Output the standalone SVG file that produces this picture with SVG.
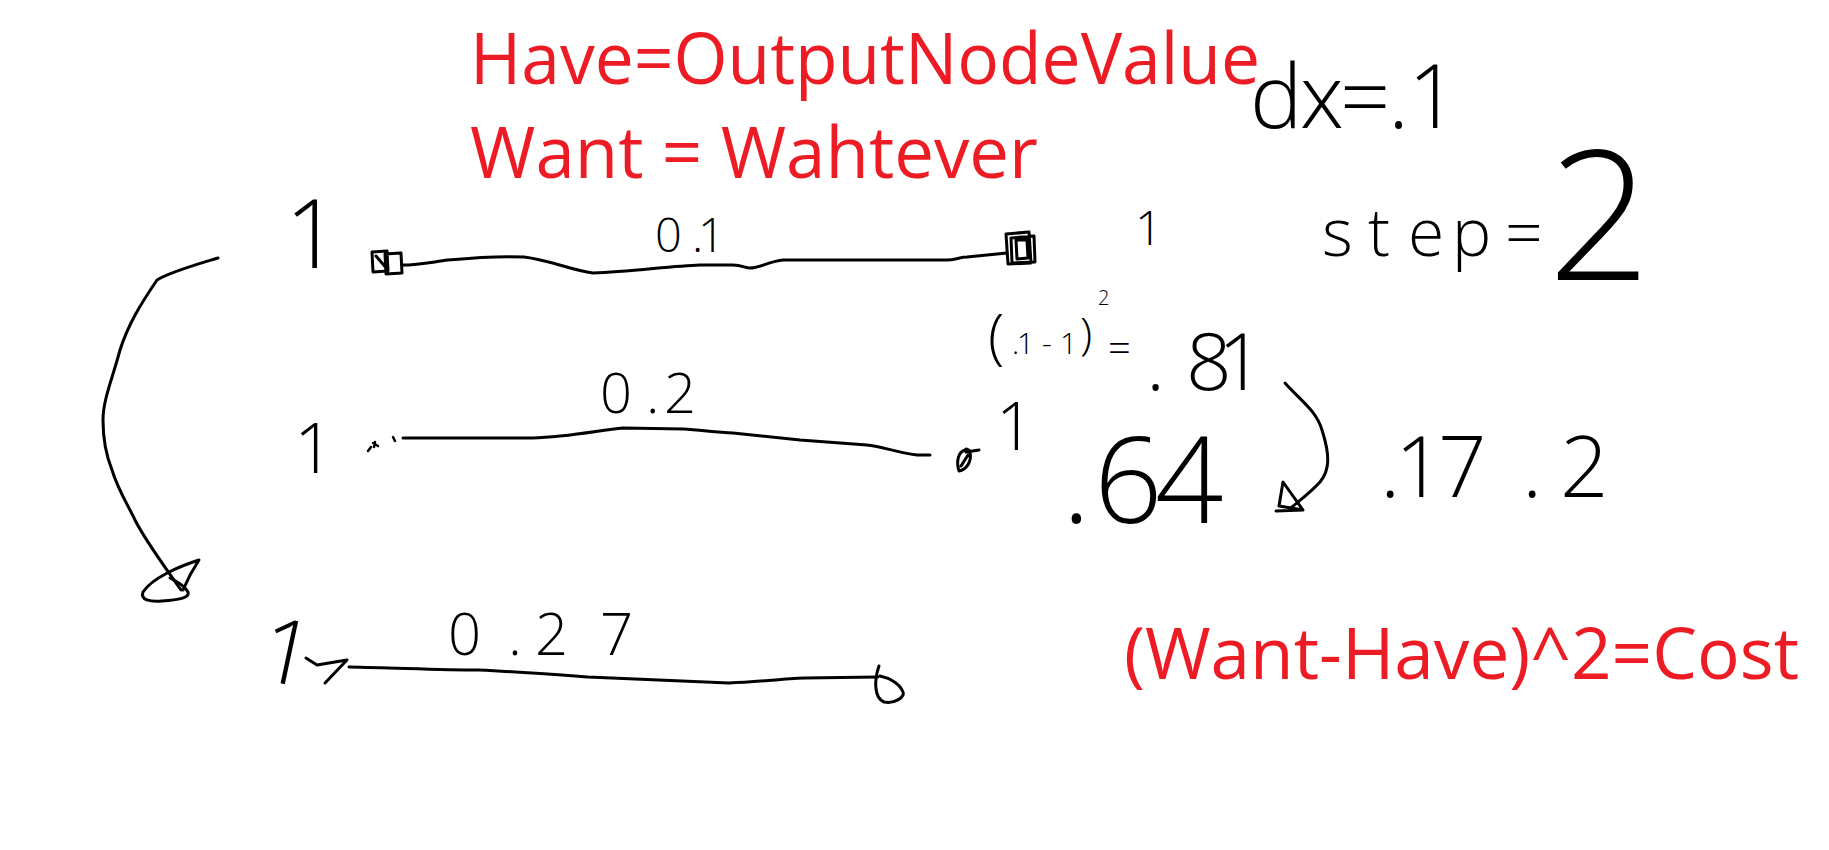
<svg xmlns="http://www.w3.org/2000/svg" width="1829" height="850" viewBox="0 0 1829 850">
<style>
.bg{fill:#fff}
.red{font-family:"Open Sans","Liberation Sans",sans-serif;fill:#ED1C24;font-size:72px}
.hw{font-family:"Open Sans","Liberation Sans",sans-serif;font-weight:300;fill:#000}
.s{fill:none;stroke:#000;stroke-width:3;stroke-linecap:round;stroke-linejoin:round}
</style>
<rect class="bg" x="0" y="0" width="1829" height="850"/>

<g id="title">
<text class="red" x="470" y="84" textLength="790" lengthAdjust="spacingAndGlyphs">Have=OutputNodeValue</text>
<text class="red" x="470" y="178" textLength="568" lengthAdjust="spacingAndGlyphs">Want = Wahtever</text>
<text class="red" x="1124" y="679" textLength="675" lengthAdjust="spacingAndGlyphs">(Want-Have)^2=Cost</text>
</g>

<g id="params">
<text class="hw" font-size="88" x="1250 1300 1340 1388 1408" y="128">dx=.1</text>
<text class="hw" font-size="66" x="1322 1368 1408 1452 1505" y="256">step=</text>
<text class="hw" font-size="180" x="1548" y="280">2</text>
</g>

<g id="calc">
<text class="hw" y="358"><tspan x="988" font-size="60">(</tspan><tspan x="1012 1017 1042 1060" y="354" font-size="30">.1-1</tspan><tspan x="1080" y="350" font-size="45">)</tspan><tspan x="1098" y="305" font-size="20">2</tspan><tspan x="1108" y="362" font-size="40">=</tspan></text>
<text class="hw" font-size="80" x="1146 1186 1218" y="390">.81</text>
<text class="hw" font-size="120" x="1062 1094 1155" y="523">.64</text>
<text class="hw" font-size="85" x="1380 1395 1438 1522 1560" y="497">.17.2</text>
</g>

<g id="node-r1-in">
<text class="hw" font-size="96" x="285" y="268">1</text>
<path class="s" d="M372,252 L387,251 L388,271 L373,272 Z M385,254 L401,253 L402,273 L386,274 Z M376,256 L388,270"/>
</g>
<g id="node-r1-out">
<text class="hw" font-size="48" x="1135" y="245">1</text>
<path class="s" d="M1006,234 L1029,232 L1031,263 L1008,264 Z M1011,238 L1034,236 L1035,262 L1012,263 Z M1016,240 L1027,240 L1028,258 L1017,259 Z"/>
</g>
<g id="node-r2-in">
<text class="hw" font-size="70" x="294" y="473">1</text>
<path class="s" d="M368,451 L371,447 M373,443 L378,446 M375,442 L374,447 M393,437 L395,441" style="stroke-width:2.5"/>
</g>
<g id="node-r2-out">
<text class="hw" font-size="66" x="996" y="450">1</text>
<path class="s" d="M965,450 C958,452 956,462 959,471 C966,470 972,462 970,452 C968,448 966,449 965,450 M966,452 L979,450 M961,466 L968,455"/>
</g>
<g id="node-r3-in">
<text class="hw" font-size="90" x="262" y="683" transform="rotate(12 283 650)">1</text>
<path class="s" d="M306,658 L317,665 L347,660 L325,683"/>
</g>
<g id="node-r3-out">
<path class="s" d="M879,666 C874,680 874,698 884,702 C895,704 905,697 903,692 C900,684 890,678 880,676"/>
</g>

<g id="weights">
<text class="hw" font-size="47" x="655 692 698" y="252">0.1</text>
<text class="hw" font-size="56" x="600 646 664" y="413">0.2</text>
<text class="hw" font-size="58" x="448 508 535 600" y="655">0.27</text>
</g>

<g id="connectors">
<path class="s" d="M402,265 C420,265 432,262 448,260 C480,257 505,256 524,257 C550,260 570,270 593,273 C630,272 670,266 700,265 L733,265 C742,265 745,268 750,268 C760,268 770,261 783,260 L947,260 C955,260 960,257 967,257 L1007,253"/>
<path class="s" d="M403,438 L532,438 C570,437 600,430 623,428 L683,429 C700,430 715,432 733,433 L800,440 L867,445 C880,446 895,452 917,455 L930,455"/>
<path class="s" d="M349,667 C400,668 440,670 479,670 C520,672 560,675 588,677 L729,683 C760,682 790,678 805,678 L878,677"/>
<path class="s" d="M218,258 C195,265 170,272 157,280 C140,305 128,325 120,350 C112,380 103,400 103,420 C103,445 108,460 112,470 C118,490 128,505 135,520 C145,540 160,560 181,590"/>
<path class="s" d="M183,590 C188,578 195,566 199,560 C180,566 152,578 143,592 C140,600 150,602 162,601 C178,600 190,598 188,592 C186,588 178,582 170,578"/>
<path class="s" d="M1285,383 C1300,400 1316,410 1322,430 C1330,455 1330,470 1320,482 C1310,493 1300,500 1292,507"/>
<path class="s" d="M1283,482 L1279,506 L1303,510 Z M1276,511 L1303,510"/>
</g>
</svg>
